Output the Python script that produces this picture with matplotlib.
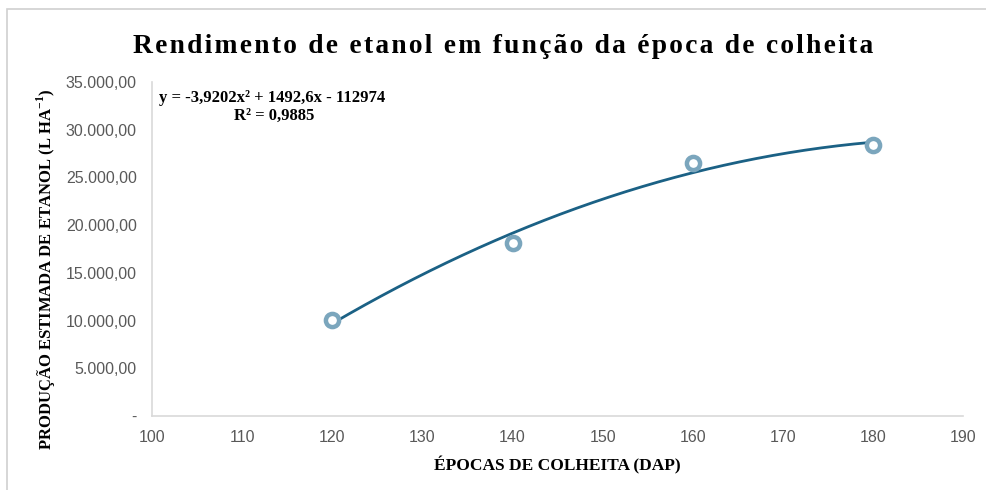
import numpy as np
import matplotlib
matplotlib.use('Agg')
import matplotlib.pyplot as plt
from matplotlib.patches import Rectangle

# dados
epocas = [120, 140, 160, 180]
producao = [10050, 18100, 26550, 28350]
coef = [-3.9202, 1492.6, -112974]   # linha de tendencia polinomial (Excel)
r2 = 0.9885
yticks = [0, 5000, 10000, 15000, 20000, 25000, 30000, 35000]
xticks = [100, 110, 120, 130, 140, 150, 160, 170, 180, 190]
titulo = 'Rendimento de etanol em função da época de colheita'

plt.rcParams['mathtext.fontset'] = 'custom'
plt.rcParams['mathtext.bf'] = 'Liberation Serif:bold'
plt.rcParams['mathtext.rm'] = 'Liberation Serif'

fig = plt.figure(figsize=(9.87, 4.9), dpi=100)
ax = fig.add_axes([0.154, 0.151, 0.822, 0.682])

# moldura cinza da figura
fig.patches.append(Rectangle((7/987, -0.1), 1.2, 1 - 9/490 + 0.1, transform=fig.transFigure,
                             fill=False, edgecolor='#d0d0d0', lw=1.2))

xs = np.linspace(epocas[0], epocas[-1], 200)
ax.plot(xs, np.polyval(coef, xs), color='#1b6185', lw=2, zorder=2)
ax.plot(epocas, producao, 'o', ms=9.5, mfc='white', mec='#7ba6bd', mew=3.2, zorder=3)

ax.set_xlim(100, 190)
ax.set_ylim(0, 35000)
ax.set_xticks(xticks)
ax.set_yticks(yticks)

def fmt(v):
    if v == 0:
        return '-'
    s = '{:,.2f}'.format(v)
    return s.replace(',', 'X').replace('.', ',').replace('X', '.')

ax.set_yticklabels([fmt(v) for v in yticks])
ax.tick_params(length=0, labelsize=11.5, labelcolor='#595959', pad=10)
for lab in ax.get_xticklabels() + ax.get_yticklabels():
    lab.set_family('Liberation Sans')
ax.tick_params(axis='y', pad=11)

for s in ['top', 'right']:
    ax.spines[s].set_visible(False)
for s in ['left', 'bottom']:
    ax.spines[s].set_color('#d9d9d9')
    ax.spines[s].set_linewidth(1.2)

# titulo com espacamento entre letras
fig.text(0.510, 0.906, '\u200a'.join(titulo), ha='center', va='center',
         family='Liberation Serif', weight='bold', fontsize=19.8)
ax.set_xlabel('ÉPOCAS DE COLHEITA (DAP)', family='Liberation Serif', weight='bold',
              fontsize=12.5)
ax.xaxis.set_label_coords(0.5, -0.122)
ax.set_ylabel(r'PRODUÇÃO ESTIMADA DE ETANOL (L HA$^{\mathbf{-1}}$)', family='Liberation Serif',
              weight='bold', fontsize=12)
ax.yaxis.set_label_coords(-0.116, 0.44)

eq = 'y = {}x² + {}x - {}'.format(str(coef[0]).replace('.', ','), str(coef[1]).replace('.', ','),
                                  int(-coef[2]))
fig.text(0.161, 0.801, eq, ha='left', va='center', family='Liberation Serif', weight='bold',
         fontsize=12)
fig.text(0.278, 0.764, 'R² = ' + str(r2).replace('.', ','), ha='center', va='center',
         family='Liberation Serif', weight='bold', fontsize=12)

fig.savefig('out.png', dpi=100)
